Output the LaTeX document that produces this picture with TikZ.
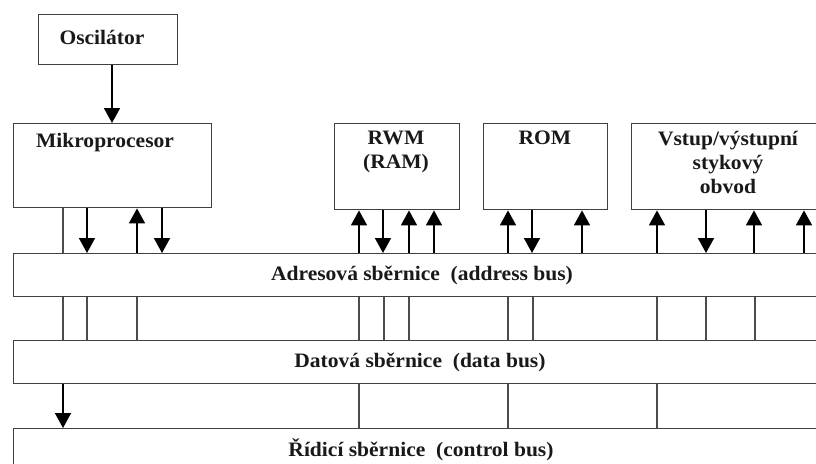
\documentclass[tikz,border=0pt]{standalone}
\usepackage{fontspec}
\setmainfont{Liberation Serif}[FakeStretch=1.05]
\usetikzlibrary{arrows.meta}
\begin{document}
\begin{tikzpicture}[x=1pt,y=-1pt,
  unit/.style={draw=black!75,line width=1.4pt,fill=white,inner sep=0pt,anchor=north west},
  lbl/.style={font=\fontsize{20.5}{24}\selectfont\bfseries,text=black!90,align=center,inner sep=0pt},
  wire/.style={draw=black!70,line width=1.4pt},
  arr/.style={draw=black,line width=1.7pt,-{Triangle[length=15pt,width=16pt]}}]
\useasboundingbox (0,0) rectangle (816,463);
\clip (0,0) rectangle (816,463);
\fill[white] (0,0) rectangle (816,463);

% functional blocks
\node[unit,minimum width=139,minimum height=50] (osc) at (38,14) {};
\node[lbl] (osct) at (102,37) {Oscilátor};
\node[unit,minimum width=198,minimum height=84] (mp) at (13,123) {};
\node[lbl,anchor=center] (mpt) at (105,143) {Mikroprocesor};
\node[unit,minimum width=125,minimum height=86] (rwm) at (334,123) {};
\node[lbl,anchor=north] (rwmt) at (396,131) {RWM\\(RAM)};
\node[unit,minimum width=124,minimum height=86] (rom) at (483,123) {};
\node[lbl,anchor=north] (romt) at (545,131) {ROM};
\node[unit,minimum width=200,minimum height=86] (io) at (631,123) {};
\node[lbl,anchor=north] (iot) at (728,131) {Vstup/výstupní\\stykový\\obvod};

% buses
\node[unit,minimum width=817,minimum height=43] (abus) at (13,253) {};
\node[lbl] (abust) at (422,275) {Adresová sběrnice\ \ (address bus)};
\node[unit,minimum width=817,minimum height=43] (dbus) at (13,340) {};
\node[lbl] (dbust) at (420,362) {Datová sběrnice\ \ (data bus)};
\node[unit,minimum width=817,minimum height=50] (cbus) at (13,428) {};
\node[lbl] (cbust) at (421,450) {Řídicí sběrnice\ \ (control bus)};

% clock
\draw[arr] (osc.south -| 112,0) -- (mp.north -| 112,0);

% microprocessor to address bus
\draw[wire] (mp.south -| 63,0) -- (abus.north -| 63,0);
\draw[arr] (mp.south -| 87,0) -- (abus.north -| 87,0);
\draw[arr] (abus.north -| 137,0) -- (mp.south -| 137,0);
\draw[arr] (mp.south -| 162,0) -- (abus.north -| 162,0);

% memory RWM
\draw[arr] (abus.north -| 359,0) -- (rwm.south -| 359,0);
\draw[arr] (rwm.south -| 383,0) -- (abus.north -| 383,0);
\draw[arr] (abus.north -| 409,0) -- (rwm.south -| 409,0);
\draw[arr] (abus.north -| 434,0) -- (rwm.south -| 434,0);

% memory ROM
\draw[arr] (abus.north -| 508,0) -- (rom.south -| 508,0);
\draw[arr] (rom.south -| 532,0) -- (abus.north -| 532,0);
\draw[arr] (abus.north -| 582,0) -- (rom.south -| 582,0);

% input/output circuit
\draw[arr] (abus.north -| 657,0) -- (io.south -| 657,0);
\draw[arr] (io.south -| 706,0) -- (abus.north -| 706,0);
\draw[arr] (abus.north -| 754,0) -- (io.south -| 754,0);
\draw[arr] (abus.north -| 804,0) -- (io.south -| 804,0);

% address bus to data bus
\foreach \xx in {63,87,137,359,384,409,508,533,657,706,755}
  \draw[wire] (abus.south -| \xx,0) -- (dbus.north -| \xx,0);

% data bus to control bus
\foreach \xx in {359,508,657}
  \draw[wire] (dbus.south -| \xx,0) -- (cbus.north -| \xx,0);
\draw[arr] (dbus.south -| 63,0) -- (cbus.north -| 63,0);
\end{tikzpicture}
\end{document}
